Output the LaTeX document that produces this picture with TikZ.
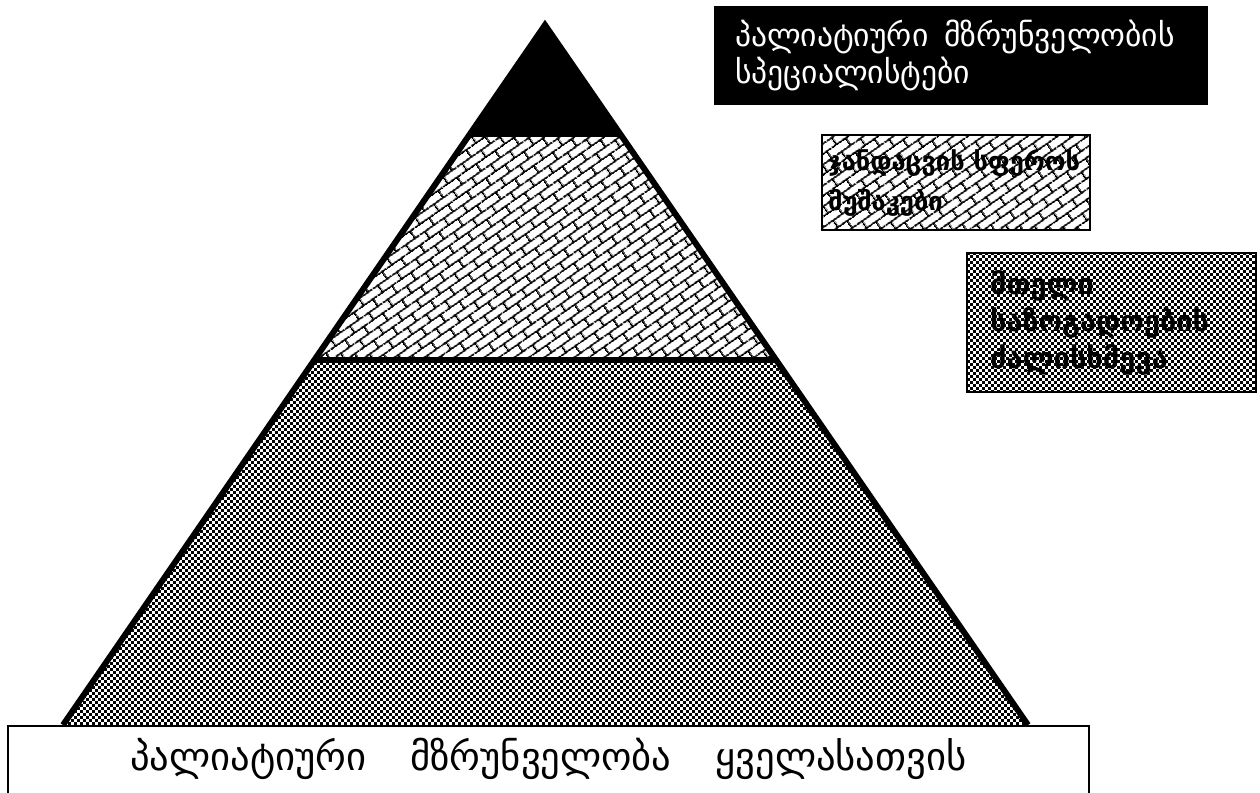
\documentclass[tikz,border=0pt]{standalone}
\usepackage{fontspec}
\newfontfamily\geo{DejaVu Sans}
\usetikzlibrary{patterns.meta,calc}
\tikzdeclarepattern{
  name=bricks, type=uncolored,
  bounding box={(0pt,0pt) and (13pt,10pt)},
  tile size={(13pt,10pt)},
  tile transformation={rotate=35},
  code={
    \draw[line width=1.1pt] (0pt,2.5pt)--(13pt,2.5pt) (0pt,7.5pt)--(13pt,7.5pt)
      (3.25pt,2.5pt)--(3.25pt,7.5pt) (9.75pt,7.5pt)--(9.75pt,10pt) (9.75pt,0pt)--(9.75pt,2.5pt);
  }
}
\tikzdeclarepattern{
  name=checker, type=uncolored,
  bounding box={(0pt,0pt) and (3.4pt,3.4pt)},
  tile size={(3.4pt,3.4pt)},
  code={\fill (0.1pt,0.1pt) rectangle (1.6pt,1.6pt) (1.8pt,1.8pt) rectangle (3.3pt,3.3pt);}
}
\tikzset{
  legend/.style={draw, line width=1.1pt, inner ysep=0pt, align=flush left},
  thick outline/.style={line width=3.4pt},
  checkerfill/.style={pattern=checker},
}
\begin{document}
\begin{tikzpicture}[x=0.02cm,y=-0.02cm]
\useasboundingbox (0,0) rectangle (1260,793);
\clip (0,0) rectangle (1260,793);
\coordinate (apex) at (545,25);
\coordinate (bl) at (63,725);
\coordinate (br) at (1028,725);
\coordinate (l1) at ($(apex)!0.16!(bl)$);
\coordinate (r1) at ($(apex)!0.16!(br)$);
\coordinate (l2) at ($(apex)!0.4786!(bl)$);
\coordinate (r2) at ($(apex)!0.4786!(br)$);
\fill[pattern=bricks] (l1)--(r1)--(r2)--(l2)--cycle;
\fill[black] (apex)--(r1)--(l1)--cycle;
\path[checkerfill] (l2)--(r2)--(br)--(bl)--cycle;
\draw[thick outline] (l2)--(r2);
\draw[thick outline, line join=miter] (bl)--(apex)--(br);
% bottom banner
\node[draw, line width=1.1pt, fill=white, anchor=north west, minimum width=21.62cm,
      minimum height=1.44cm, text depth=0.3cm, font=\geo\fontsize{22}{26}\selectfont] (base) at (7,725)
  {პალიატიური\hspace{18pt} მზრუნველობა\hspace{18pt} ყველასათვის};
% legend boxes
\node[legend, fill=black, text=white, minimum width=9.84cm, minimum height=1.94cm,
      inner xsep=0.4cm, text width=9.04cm, font=\geo\fontsize{18}{21}\selectfont] (spec) at (961,55.5)
  {პალიატიური\enspace მზრუნველობის\\სპეციალისტები};
\node[legend, pattern=bricks, minimum width=5.36cm, minimum height=1.9cm,
      inner xsep=0.12cm, text width=5.12cm, font=\geo\bfseries\fontsize{14.5}{22.7}\selectfont] (health) at (956,182.5)
  {ჯანდაცვის სფეროს\\მუშაკები};
\node[legend, checkerfill, minimum width=5.78cm, minimum height=2.78cm,
      inner xsep=0.46cm, text width=4.86cm, font=\geo\bfseries\fontsize{16.5}{21}\selectfont] (society) at (1111.5,322.5)
  {მთელი\\საზოგადოების\\ძალისხმევა};
\end{tikzpicture}
\end{document}
